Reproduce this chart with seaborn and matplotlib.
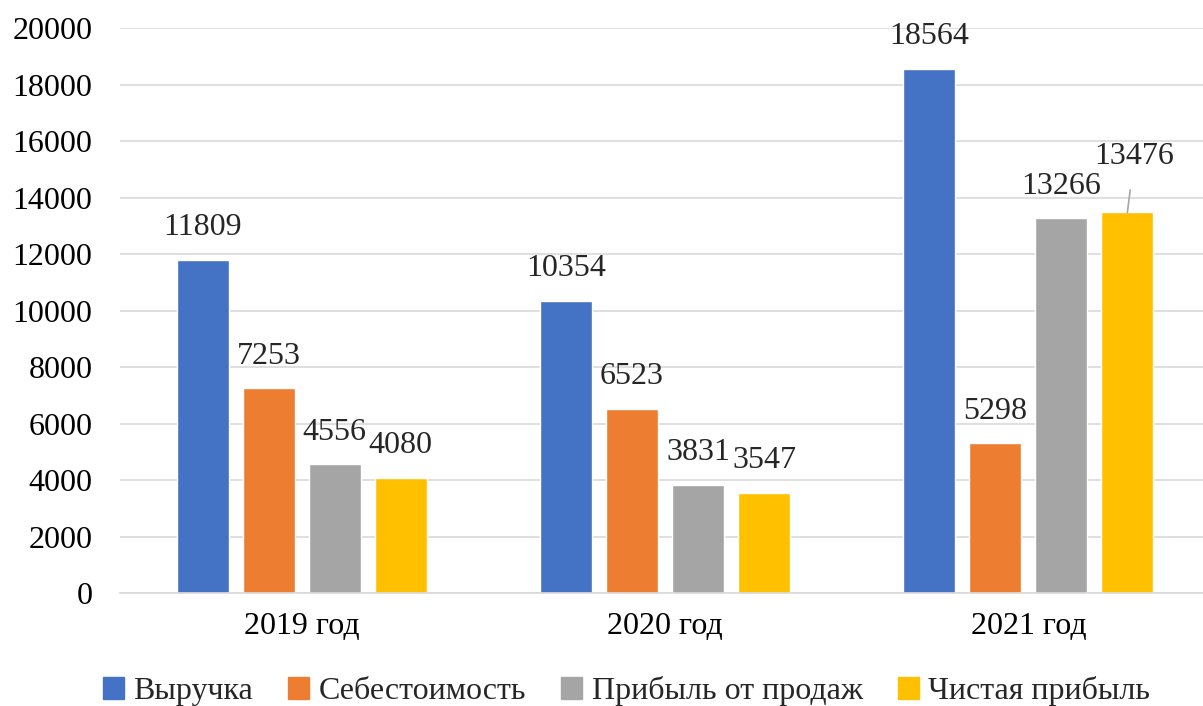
import matplotlib
matplotlib.use("Agg")
import matplotlib.pyplot as plt
import seaborn as sns
import pandas as pd

years = ["2019 год", "2020 год", "2021 год"]
series = ["Выручка", "Себестоимость", "Прибыль от продаж", "Чистая прибыль"]
revenue = [11809, 10354, 18564]
cost = [7253, 6523, 5298]
sales_profit = [4556, 3831, 13266]
net_profit = [4080, 3547, 13476]
yticks = list(range(0, 20001, 2000))

colors = ["#4472C4", "#ED7D31", "#A5A5A5", "#FFC000"]

values = [revenue, cost, sales_profit, net_profit]
df = pd.DataFrame(
    [(y, s, v[i]) for s, v in zip(series, values) for i, y in enumerate(years)],
    columns=["year", "series", "value"],
)

sns.set_theme(style="white")
plt.rcParams["font.family"] = ["Liberation Serif", "DejaVu Serif"]

fig = plt.figure(figsize=(12.03, 7.06), dpi=100)
ax = fig.add_axes([0.0998, 0.160, 0.906, 0.800])

sns.barplot(
    data=df, x="year", y="value", hue="series", hue_order=series,
    order=years, palette=colors, width=0.727, gap=0.213,
    saturation=1, legend=False, ax=ax, errorbar=None,
)

ax.set_ylim(0, 20000)
ax.set_xlim(-0.5, 2.5)
ax.set_yticks(yticks)
ax.set_yticklabels([str(t) for t in yticks])
ax.yaxis.grid(True, color="#D9D9D9", linewidth=1.2)
ax.set_axisbelow(True)
for side in ["top", "right", "left"]:
    ax.spines[side].set_visible(False)
ax.spines["bottom"].set_color("#D9D9D9")
ax.spines["bottom"].set_linewidth(1.2)
ax.tick_params(axis="both", length=0, labelsize=23, colors="black")
ax.tick_params(axis="y", pad=20)
ax.tick_params(axis="x", pad=14)
ax.set_xlabel("")
ax.set_ylabel("")

# value labels above the bars
for container, vals in zip(ax.containers, values):
    for bar, v in zip(container, vals):
        cx = bar.get_x() + bar.get_width() / 2
        top = bar.get_height()
        if v == net_profit[2]:
            ax.annotate(
                str(v), xy=(cx, top), xytext=(5, 40), textcoords="offset points",
                ha="center", va="center", fontsize=23,
                arrowprops=dict(arrowstyle="-", color="#A6A6A6", lw=1.2,
                                shrinkA=11, shrinkB=0),
            )
        else:
            ax.annotate(
                str(v), xy=(cx, top), xytext=(0, 23), textcoords="offset points",
                ha="center", va="center", fontsize=23,
            )

handles = [plt.Rectangle((0, 0), 1, 1, color=c) for c in colors]
fig.legend(
    handles, series, loc="center", bbox_to_anchor=(0.521, 0.021), ncol=4,
    frameon=False, fontsize=23, handlelength=0.65, handleheight=0.65,
    handletextpad=0.3, columnspacing=1.1,
)

fig.savefig("out.png", dpi=100)
